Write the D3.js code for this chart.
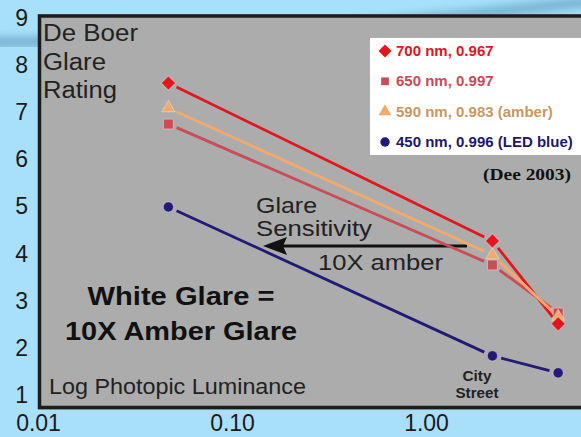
<!DOCTYPE html>
<html>
<head>
<meta charset="utf-8">
<script src="https://cdn.jsdelivr.net/npm/d3@7"></script>
<style>
  body { margin: 0; background: #a8e0fa; }
  svg { display: block; font-family: "Liberation Sans", Arial, sans-serif; }
</style>
</head>
<body>
<svg width="581" height="437"></svg>
<script>
// luminance (x) and glare rating per wavelength
const luminance = [0.047, 2.2, 4.8];
const red700 = [7.62, 4.27, 2.51];
const pink650 = [6.75, 3.76, 2.74];
const amber590 = [7.09, 3.97, 2.66];
const blue450 = [4.99, 1.83, 1.47];
const xTicks = [0.01, 0.1, 1];
const yTicks = [1, 2, 3, 4, 5, 6, 7, 8, 9];

const series = [
  {name: '700 nm, 0.967', values: red700, color: '#e3161e', text: '#e0141c', shape: 'diamond'},
  {name: '650 nm, 0.997', values: pink650, color: '#cc4b55', text: '#c94a55', shape: 'square'},
  {name: '590 nm, 0.983 (amber)', values: amber590, color: '#f4a96c', text: '#c9975f', shape: 'triangle'},
  {name: '450 nm, 0.996 (LED blue)', values: blue450, color: '#211a78', text: '#1e1670', shape: 'circle'}
];

const svg = d3.select('svg');

const x = d3.scaleLog().domain([0.01, 1]).range([38, 426]);
const y = d3.scaleLinear().domain([1, 9]).range([395, 18]);

// background streak
const defs = svg.append('defs');
defs.append('filter').attr('id', 'blur')
  .append('feGaussianBlur').attr('stdDeviation', 5);
svg.append('path')
  .attr('d', 'M-30,42 C150,44 350,30 620,-2')
  .attr('fill', 'none')
  .attr('stroke', '#6ea7c9')
  .attr('stroke-width', 9)
  .attr('filter', 'url(#blur)');

// plot panel
svg.append('rect')
  .attr('x', 38).attr('y', 14).attr('width', 560).attr('height', 396)
  .attr('fill', '#acacac');
svg.append('path')
  .attr('d', 'M581,16 H39.5 V407.5 H581')
  .attr('fill', 'none')
  .attr('stroke', '#1c1c1c')
  .attr('stroke-width', 3.5);

// axes
const yAxis = svg.append('g')
  .call(d3.axisLeft(y).tickValues(yTicks).tickSize(0).tickPadding(0).tickFormat(d3.format('d')));
yAxis.select('.domain').remove();
yAxis.selectAll('text')
  .attr('x', 28)
  .attr('font-size', 23)
  .attr('font-family', '"Liberation Sans", Arial, sans-serif')
  .attr('fill', '#1a1a1a');

const xAxis = svg.append('g')
  .call(d3.axisBottom(x).tickValues(xTicks).tickSize(0).tickFormat(d3.format('.2f')));
xAxis.select('.domain').remove();
xAxis.selectAll('text')
  .attr('y', 431)
  .attr('dy', null)
  .attr('font-size', 23)
  .attr('font-family', '"Liberation Sans", Arial, sans-serif')
  .attr('fill', '#1a1a1a');

// text annotations
const label = (txt, tx, ty, size, len, opts = {}) => svg.append('text')
  .attr('x', tx).attr('y', ty)
  .attr('font-size', size)
  .attr('font-weight', opts.bold ? 'bold' : 'normal')
  .attr('font-family', opts.serif ? '"Liberation Serif", "Times New Roman", serif' : null)
  .attr('text-anchor', opts.anchor || 'start')
  .attr('fill', opts.fill || '#222')
  .attr('textLength', len)
  .attr('lengthAdjust', 'spacingAndGlyphs')
  .text(txt);

label('De Boer', 43, 41, 23, 95);
label('Glare', 43, 70, 23, 63);
label('Rating', 43, 98, 23, 74);
label('Log Photopic Luminance', 49, 394, 22, 257);
label('White Glare =', 181, 305, 25, 187, {bold: true, anchor: 'middle', fill: '#111'});
label('10X Amber Glare', 181, 340, 25, 232, {bold: true, anchor: 'middle', fill: '#111'});
label('Glare', 256, 213, 22, 61);
label('Sensitivity', 256, 236, 22, 116);
label('10X amber', 318, 270, 22, 125);
label('City', 477, 381, 14, 29, {bold: true, anchor: 'middle'});
label('Street', 477, 398, 14, 43, {bold: true, anchor: 'middle'});
label('(Dee 2003)', 483, 180, 16, 88, {bold: true, serif: true, fill: '#111'});

// arrow
svg.append('line')
  .attr('x1', 467).attr('y1', 246).attr('x2', 280).attr('y2', 246)
  .attr('stroke', '#111').attr('stroke-width', 3);
svg.append('path')
  .attr('d', 'M263,246 L287,237 L283,246 L287,255 Z')
  .attr('fill', '#111');

// series lines (segments with gaps at markers)
const gap = 9;
series.forEach(s => {
  const pts = luminance.map((l, i) => [x(l), y(s.values[i])]);
  d3.pairs(pts).forEach(([a, b]) => {
    const dx = b[0] - a[0], dy = b[1] - a[1];
    const len = Math.hypot(dx, dy);
    const ux = dx / len, uy = dy / len;
    svg.append('line')
      .attr('x1', a[0] + ux * gap).attr('y1', a[1] + uy * gap)
      .attr('x2', b[0] - ux * gap).attr('y2', b[1] - uy * gap)
      .attr('stroke', s.color)
      .attr('stroke-width', 2.8);
  });
});

// markers
const symbolFor = {
  diamond: d3.symbol(d3.symbolSquare, 100),
  square: d3.symbol(d3.symbolSquare, 95),
  triangle: d3.symbol(d3.symbolTriangle, 75),
  circle: d3.symbol(d3.symbolCircle, 80)
};
const drawOrder = [series[1], series[2], series[0], series[3]];
drawOrder.forEach(s => {
  svg.append('g').selectAll('path')
    .data(luminance)
    .join('path')
      .attr('d', symbolFor[s.shape]())
      .attr('transform', (l, i) => `translate(${x(l)},${y(s.values[i])})` + (s.shape === 'diamond' ? ' rotate(45)' : ''))
      .attr('fill', s.color)
      .attr('stroke', 'rgba(255,255,255,0.35)')
      .attr('stroke-width', 1);
});

// legend
const legend = svg.append('g');
legend.append('rect')
  .attr('x', 370).attr('y', 38).attr('width', 220).attr('height', 117)
  .attr('fill', '#ffffff');
const legendY = d3.scalePoint().domain(series.map(s => s.name)).range([51, 142]);
const item = legend.selectAll('g.item')
  .data(series)
  .join('g')
    .attr('class', 'item')
    .attr('transform', s => `translate(385,${legendY(s.name)})`);
item.append('path')
  .attr('d', s => d3.symbol(
    s.shape === 'circle' ? d3.symbolCircle : s.shape === 'triangle' ? d3.symbolTriangle : d3.symbolSquare,
    s.shape === 'square' ? 60 : s.shape === 'diamond' ? 85 : 70)())
  .attr('transform', s => s.shape === 'diamond' ? 'rotate(45)' : null)
  .attr('fill', s => s.color);
item.append('text')
  .attr('x', 11)
  .attr('y', 5)
  .attr('font-size', 15)
  .attr('font-weight', 'bold')
  .attr('fill', s => s.text)
  .text(s => s.name);
</script>
</body>
</html>
